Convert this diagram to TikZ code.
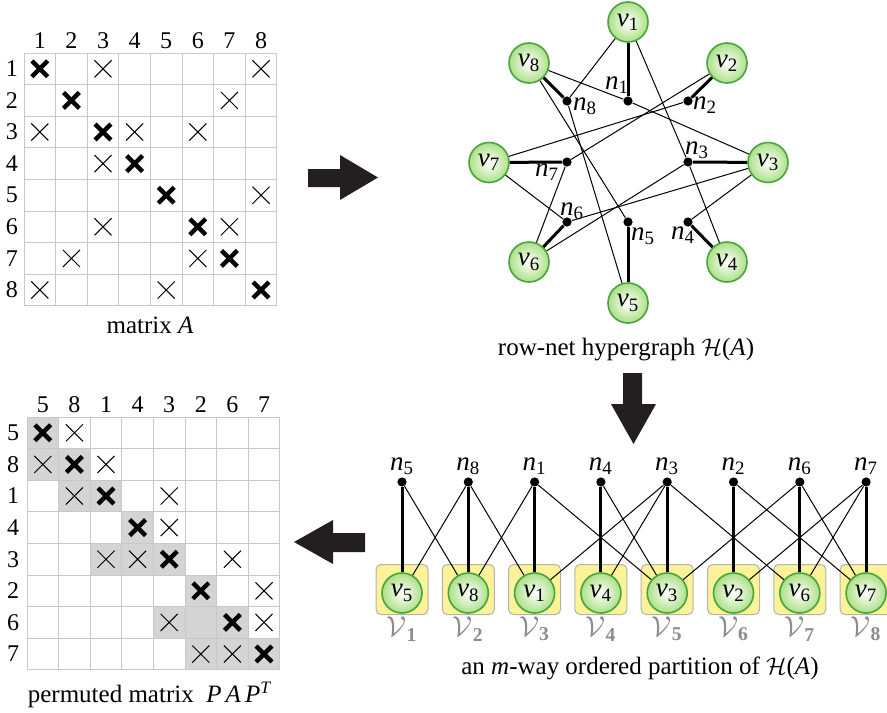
\documentclass[tikz,border=0pt]{standalone}
\usepackage{fontspec}
\setmainfont{Liberation Serif}
\usetikzlibrary{positioning}

\definecolor{vgreen}{RGB}{70,165,60}
\definecolor{vfill}{RGB}{172,224,135}
\definecolor{partyellow}{RGB}{252,242,152}
\definecolor{gridgray}{RGB}{200,200,200}
\definecolor{cellgray}{RGB}{212,212,212}
\definecolor{setgray}{RGB}{140,140,140}
\definecolor{arrowblack}{RGB}{35,31,32}

\newcommand{\vtx}[1]{\textit{v}\textsubscript{#1}}
\newcommand{\net}[1]{\textit{n}\textsubscript{#1}}

\tikzset{
  vertex/.style={circle, draw=vgreen, line width=0.8pt, minimum size=20pt, inner sep=0pt,
    inner color=white, outer color=vfill, font=\fontsize{13.5}{15}\selectfont},
  netdot/.style={circle, fill=black, minimum size=4.6pt, inner sep=0pt},
  netlab/.style={font=\fontsize{13.5}{15}\selectfont, inner sep=0pt},
  pinedge/.style={line width=1.5pt},
  hedge/.style={line width=0.5pt},
  partbox/.style={rectangle, rounded corners=2.5pt, draw=gray!60, line width=0.5pt,
    fill=partyellow, minimum width=26pt, minimum height=25pt},
  setlab/.style={text=setgray, font=\fontsize{14}{16}\selectfont},
  gridline/.style={gridgray, line width=0.5pt},
  thincross/.pic={\draw[line width=0.5pt] (-0.27,-0.27) -- (0.27,0.27) (-0.27,0.27) -- (0.27,-0.27);},
  boldcross/.pic={\draw[line width=2.2pt] (-0.25,-0.25) -- (0.25,0.25) (-0.25,0.25) -- (0.25,-0.25);},
}

\begin{document}
\begin{tikzpicture}[x=0.5pt, y=-0.5pt, font=\fontsize{12}{14}\selectfont]
  \useasboundingbox (0,0) rectangle (887,712);

  % matrix A
  \begin{scope}[shift={(12pt,-26.5pt)}, x=15.8pt, y=-15.8pt]
    \foreach \i in {0,...,8}
      \draw[gridline] (\i,0) -- (\i,8) (0,\i) -- (8,\i);
    \foreach \c in {1,...,8} {
      \node (colA\c) at (\c-0.5,-0.4) {\c};
      \node (rowA\c) at (-0.38,\c-0.5) {\c};
      \pic at (\c-0.5,\c-0.5) {boldcross};
    }
    \foreach \c/\r in {3/1,8/1,7/2,1/3,4/3,6/3,3/4,8/5,3/6,7/6,2/7,6/7,1/8,5/8}
      \pic at (\c-0.5,\r-0.5) {thincross};
  \end{scope}
  \node (capA) at (150,325) {\fontsize{12.5}{14}\selectfont matrix \textit{A}};

  % permuted matrix
  \begin{scope}[shift={(13.5pt,-208.5pt)}, x=15.8pt, y=-15.8pt]
    \foreach \c/\r in {1/1,1/2,2/2,2/3,3/3,4/4,3/5,4/5,5/5,6/6,5/7,6/7,7/7,6/8,7/8,8/8}
      \fill[cellgray] (\c-1,\r-1) rectangle (\c,\r);
    \foreach \i in {0,...,8}
      \draw[gridline] (\i,0) -- (\i,8) (0,\i) -- (8,\i);
    \foreach \p [count=\i] in {5,8,1,4,3,2,6,7} {
      \node (colP\i) at (\i-0.5,-0.38) {\p};
      \node (rowP\i) at (-0.44,\i-0.5) {\p};
      \pic at (\i-0.5,\i-0.5) {boldcross};
    }
    \foreach \c/\r in {2/1,1/2,3/2,2/3,5/3,5/4,3/5,4/5,7/5,8/6,5/7,8/7,6/8,7/8}
      \pic at (\c-0.5,\r-0.5) {thincross};
  \end{scope}
  \node (capB) at (150,695) {\fontsize{12.5}{14}\selectfont permuted matrix\ \ \textit{P\,A\,P}\textsuperscript{\textit{T}}};

  % row-net hypergraph
  \node[vertex] (v1) at (628,22) {\vtx{1}};
  \node[vertex] (v2) at (727,63) {\vtx{2}};
  \node[vertex] (v3) at (768,162.5) {\vtx{3}};
  \node[vertex] (v4) at (727,262) {\vtx{4}};
  \node[vertex] (v5) at (628,303) {\vtx{5}};
  \node[vertex] (v6) at (529,262) {\vtx{6}};
  \node[vertex] (v7) at (489,162.5) {\vtx{7}};
  \node[vertex] (v8) at (529,63) {\vtx{8}};

  \node[netdot] (n1) at (628,101) {};
  \node[netdot] (n2) at (688,101) {};
  \node[netdot] (n3) at (688,162) {};
  \node[netdot] (n4) at (688,222) {};
  \node[netdot] (n5) at (628,222) {};
  \node[netdot] (n6) at (567,222) {};
  \node[netdot] (n7) at (567,162) {};
  \node[netdot] (n8) at (567,101) {};

  \node[netlab] (ln1) at (617,85) {\net{1}};
  \node[netlab] (ln2) at (705,105) {\net{2}};
  \node[netlab] (ln3) at (697,150) {\net{3}};
  \node[netlab] (ln4) at (683,235) {\net{4}};
  \node[netlab] (ln5) at (643,236) {\net{5}};
  \node[netlab] (ln6) at (572,211) {\net{6}};
  \node[netlab] (ln7) at (547,172) {\net{7}};
  \node[netlab] (ln8) at (585,106) {\net{8}};

  \foreach \k in {1,...,8}
    \draw[pinedge] (n\k) -- (v\k);
  \foreach \a/\b in {1/3,1/8,2/7,3/1,3/4,3/6,4/3,5/8,6/3,6/7,7/2,7/6,8/1,8/5}
    \draw[hedge] (n\a) -- (v\b);
  \node (capH) at (626,350) {\fontsize{12.5}{14}\selectfont row-net hypergraph $\mathcal{H}$(\textit{A})};

  % ordered partition
  \foreach \k [count=\i] in {5,8,1,4,3,2,6,7} {
    \node[partbox] (box\i) at (402+66.3*\i-66.3,589.5) {};
    \node[vertex] (pv\k) at (402+66.3*\i-66.3,593) {\vtx{\k}};
    \node[netdot] (pn\k) at (402+66.3*\i-66.3,482) {};
    \node[netlab] (lpn\k) at (402+66.3*\i-66.3,466) {\net{\k}};
    \node[setlab] (set\i) at (402+66.3*\i-66.3,629) {$\mathcal{V}$\textsubscript{\textbf{\i}}};
    \draw[pinedge] (pn\k) -- (pv\k);
  }
  \foreach \a/\b in {1/3,1/8,2/7,3/1,3/4,3/6,4/3,5/8,6/3,6/7,7/2,7/6,8/1,8/5}
    \draw[hedge] (pn\a) -- (pv\b);
  \node (capP) at (640,668) {\fontsize{12.5}{14}\selectfont an \textit{m}-way ordered partition of $\mathcal{H}$(\textit{A})};

  % block arrows between the panels
  \fill[arrowblack] (308,169) -- (340,169) -- (340,155) -- (378,177.5) -- (340,200) -- (340,187) -- (308,187) -- cycle;
  \fill[arrowblack] (623,373) -- (642,373) -- (642,404) -- (656,404) -- (633.5,444) -- (611,404) -- (623,404) -- cycle;
  \fill[arrowblack] (365,533) -- (333,533) -- (333,520) -- (294,542) -- (333,564) -- (333,552) -- (365,552) -- cycle;
\end{tikzpicture}
\end{document}
